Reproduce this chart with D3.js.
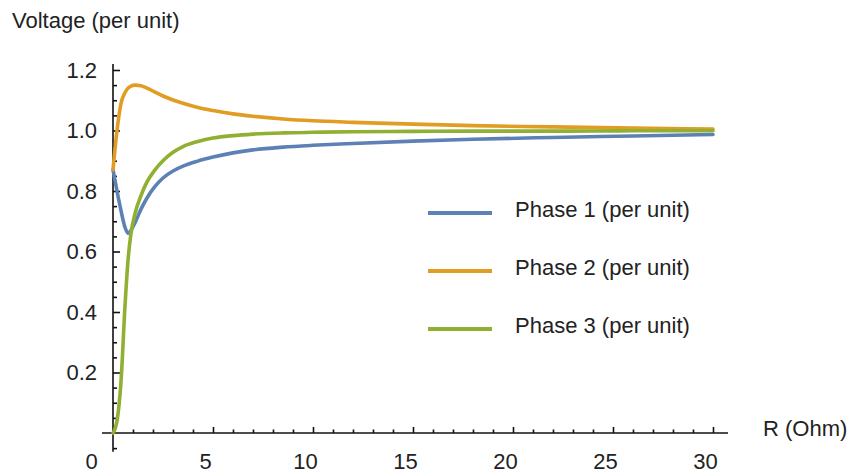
<!DOCTYPE html>
<html>
<head>
<meta charset="utf-8">
<script src="https://cdn.jsdelivr.net/npm/d3@7/dist/d3.min.js"></script>
<style>
  html, body { margin: 0; padding: 0; background: #fff; }
  svg { display: block; }
  text { font-family: "Liberation Sans", Arial, sans-serif; fill: #222; }
</style>
</head>
<body>
<svg id="chart" width="856" height="475"></svg>
<script>
// Resistance sweep (Ohm)
const resistance = [0, 0.2, 0.4, 0.6, 0.75, 0.9, 1.1, 1.4, 1.7, 2.1, 2.5, 3, 3.5, 4.2, 5, 6, 7, 8.5, 10, 12, 15, 18, 22, 26, 30];
// Phase voltages (per unit)
const phase1 = [0.87, 0.80, 0.735, 0.68, 0.66, 0.67, 0.695, 0.74, 0.777, 0.815, 0.843, 0.866, 0.882, 0.898, 0.912, 0.926, 0.936, 0.945, 0.951, 0.957, 0.965, 0.971, 0.977, 0.982, 0.987];
const phase2 = [0.87, 1.0, 1.09, 1.125, 1.14, 1.147, 1.15, 1.148, 1.14, 1.127, 1.114, 1.101, 1.09, 1.077, 1.066, 1.055, 1.047, 1.038, 1.032, 1.027, 1.021, 1.016, 1.012, 1.008, 1.005];
const phase3 = [0.0, 0.04, 0.17, 0.42, 0.57, 0.66, 0.725, 0.785, 0.83, 0.87, 0.9, 0.928, 0.947, 0.963, 0.975, 0.983, 0.988, 0.992, 0.994, 0.996, 0.997, 0.998, 0.998, 0.999, 0.999];

const seriesNames = ["Phase 1 (per unit)", "Phase 2 (per unit)", "Phase 3 (per unit)"];
const seriesColors = ["#5e81b5", "#e19c24", "#8fb032"];

const xTicksMajor = [0, 5, 10, 15, 20, 25, 30];
const yTicksMajor = [0.2, 0.4, 0.6, 0.8, 1.0, 1.2];

const fontSize = 22;
const svg = d3.select("#chart");

const x = d3.scaleLinear().domain([0, 30]).range([113, 713]);
const y = d3.scaleLinear().domain([0, 1.2]).range([433, 70]);

const axisColor = "#111";

// ---- y axis: line spanning slightly beyond the data range
svg.append("line")
  .attr("x1", x(0)).attr("x2", x(0))
  .attr("y1", y(1.22)).attr("y2", y(-0.062))
  .attr("stroke", axisColor).attr("stroke-width", 1.6);

// minor ticks every 0.05
const yMinor = d3.range(-1, 25).map(i => +(i * 0.05).toFixed(2)).filter(v => !yTicksMajor.includes(v) && v !== 0);
svg.append("g")
  .attr("transform", `translate(${x(0)},0)`)
  .call(d3.axisLeft(y).tickValues(yMinor).tickSizeInner(-4).tickSizeOuter(0).tickFormat(""))
  .call(g => g.select(".domain").remove())
  .call(g => g.selectAll("line").attr("stroke", axisColor).attr("stroke-width", 1.6));

// major ticks with labels
svg.append("g")
  .attr("transform", `translate(${x(0)},0)`)
  .call(d3.axisLeft(y).tickValues(yTicksMajor).tickSizeInner(-7).tickSizeOuter(0)
        .tickPadding(16).tickFormat(d3.format(".1f")))
  .call(g => g.select(".domain").remove())
  .call(g => g.selectAll("line").attr("stroke", axisColor).attr("stroke-width", 1.6))
  .call(g => g.selectAll("text").attr("font-size", fontSize).attr("fill", "#222")
        .attr("font-family", "Liberation Sans, Arial, sans-serif"));

// ---- x axis
svg.append("line")
  .attr("x1", x(-0.55)).attr("x2", x(30.75))
  .attr("y1", y(0)).attr("y2", y(0))
  .attr("stroke", axisColor).attr("stroke-width", 1.6);

const xMinor = d3.range(1, 31).filter(v => v % 5 !== 0);
svg.append("g")
  .attr("transform", `translate(0,${y(0)})`)
  .call(d3.axisBottom(x).tickValues(xMinor).tickSizeInner(-3.5).tickSizeOuter(0).tickFormat(""))
  .call(g => g.select(".domain").remove())
  .call(g => g.selectAll("line").attr("stroke", axisColor).attr("stroke-width", 1.6));

svg.append("g")
  .attr("transform", `translate(0,${y(0)})`)
  .call(d3.axisBottom(x).tickValues(xTicksMajor).tickSizeInner(-6).tickSizeOuter(0)
        .tickPadding(20).tickFormat(d3.format("d")))
  .call(g => g.select(".domain").remove())
  .call(g => g.selectAll("line").attr("stroke", axisColor).attr("stroke-width", 1.6)
        .filter(d => d === 0).remove())
  .call(g => g.selectAll("text").attr("font-size", fontSize).attr("fill", "#222")
        .attr("font-family", "Liberation Sans, Arial, sans-serif")
        .attr("dx", d => d === 0 ? -22 : -8));

// ---- axis titles
svg.append("text")
  .attr("x", 12).attr("y", 28)
  .attr("font-size", fontSize)
  .text("Voltage (per unit)");

svg.append("text")
  .attr("x", 763).attr("y", 436)
  .attr("font-size", fontSize)
  .text("R (Ohm)");

// ---- curves
const series = [phase1, phase2, phase3];
const line = d3.line()
  .x((d, i) => x(resistance[i]))
  .y(d => y(d))
  .curve(d3.curveMonotoneX);

svg.append("g")
  .selectAll("path")
  .data(series)
  .join("path")
  .attr("d", d => line(d))
  .attr("fill", "none")
  .attr("stroke", (d, i) => seriesColors[i])
  .attr("stroke-width", 3.6)
  .attr("stroke-linejoin", "round")
  .attr("stroke-linecap", "round");

// ---- legend
const legendY = d3.scalePoint().domain(seriesNames).range([213, 329]);
const legend = svg.append("g")
  .selectAll("g")
  .data(seriesNames)
  .join("g")
  .attr("transform", d => `translate(0,${legendY(d)})`);

legend.append("line")
  .attr("x1", 428).attr("x2", 492)
  .attr("y1", 0).attr("y2", 0)
  .attr("stroke", (d, i) => seriesColors[i])
  .attr("stroke-width", 4);

legend.append("text")
  .attr("x", 515).attr("y", 4)
  .attr("font-size", fontSize)
  .text(d => d);
</script>
</body>
</html>
